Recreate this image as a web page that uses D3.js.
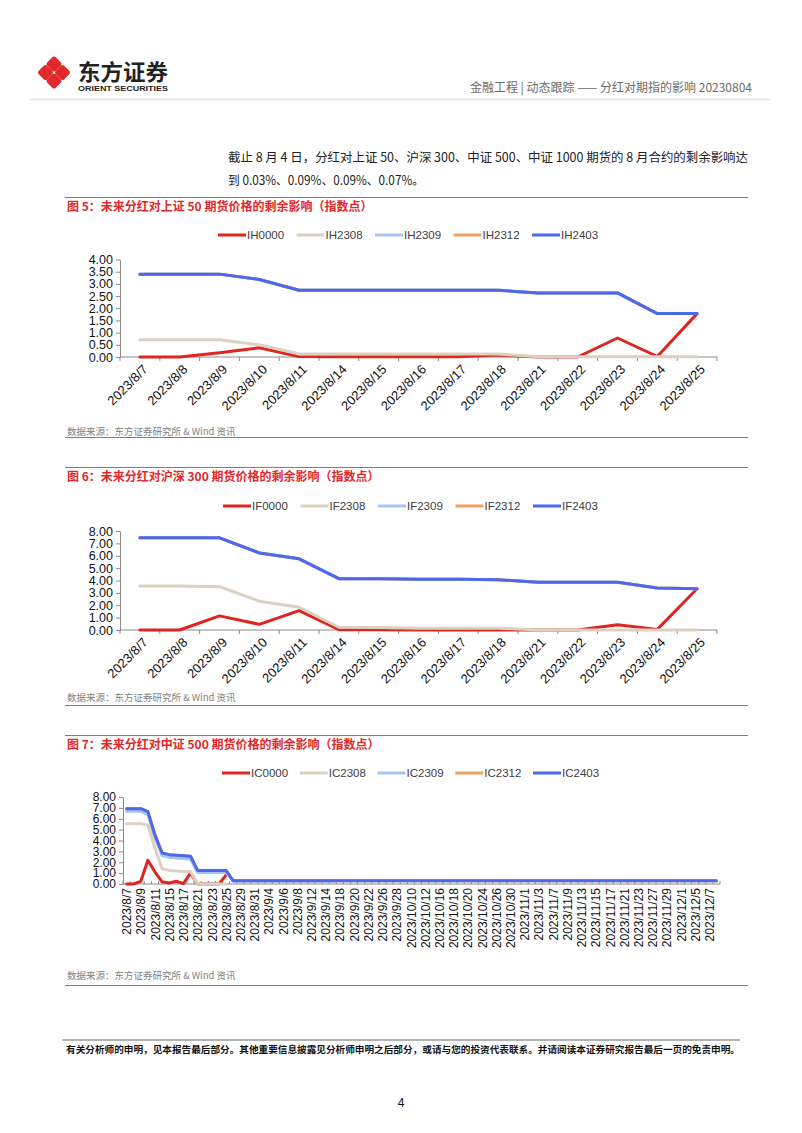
<!DOCTYPE html>
<html><head><meta charset="utf-8">
<script src="https://cdn.jsdelivr.net/npm/d3@7"></script>
<style>body{margin:0;background:#fff}svg{display:block}</style>
</head><body>
<svg id="page" width="802" height="1133"></svg>
<script>
// ---------------- DATA ----------------
const ihCats = ["2023/8/7","2023/8/8","2023/8/9","2023/8/10","2023/8/11","2023/8/14","2023/8/15","2023/8/16","2023/8/17","2023/8/18","2023/8/21","2023/8/22","2023/8/23","2023/8/24","2023/8/25"];
const ihNames = ["IH0000","IH2308","IH2309","IH2312","IH2403"];
const IH0000 = [0.00,0.00,0.17,0.38,0.02,0.01,0.01,0.01,0.01,0.08,0.00,0.00,0.78,0.02,1.78];
const IH2308 = [0.71,0.71,0.71,0.50,0.12,0.12,0.12,0.12,0.12,0.12,0.01,0.01,0.01,0.01,0.01];
const IH2309 = [3.40,3.40,3.40,3.18,2.74,2.74,2.74,2.74,2.74,2.74,2.63,2.63,2.63,1.78,1.78];
const IH2312 = [3.40,3.40,3.40,3.18,2.74,2.74,2.74,2.74,2.74,2.74,2.63,2.63,2.63,1.78,1.78];
const IH2403 = [3.40,3.40,3.40,3.18,2.74,2.74,2.74,2.74,2.74,2.74,2.63,2.63,2.63,1.78,1.78];
const ihYTicks = [0,0.5,1,1.5,2,2.5,3,3.5,4];

const ifCats = ihCats;
const ifNames = ["IF0000","IF2308","IF2309","IF2312","IF2403"];
const IF0000 = [0.00,0.00,1.14,0.46,1.57,0.02,0.02,0.00,0.00,0.00,0.00,0.00,0.43,0.05,3.33];
const IF2308 = [3.55,3.55,3.50,2.33,1.84,0.22,0.20,0.15,0.15,0.15,0.00,0.00,0.00,0.00,0.00];
const IF2309 = [7.45,7.45,7.45,6.23,5.75,4.15,4.15,4.10,4.10,4.07,3.85,3.85,3.85,3.39,3.33];
const IF2312 = [7.45,7.45,7.45,6.23,5.75,4.15,4.15,4.10,4.10,4.07,3.85,3.85,3.85,3.39,3.33];
const IF2403 = [7.45,7.45,7.45,6.23,5.75,4.15,4.15,4.10,4.10,4.07,3.85,3.85,3.85,3.39,3.33];
const ifYTicks = [0,1,2,3,4,5,6,7,8];

const icCats = [
 "2023/8/7","2023/8/8","2023/8/9","2023/8/10","2023/8/11","2023/8/14","2023/8/15","2023/8/16","2023/8/17","2023/8/18",
 "2023/8/21","2023/8/22","2023/8/23","2023/8/24","2023/8/25","2023/8/28","2023/8/29","2023/8/30","2023/8/31","2023/9/1",
 "2023/9/4","2023/9/5","2023/9/6","2023/9/7","2023/9/8","2023/9/11","2023/9/12","2023/9/13","2023/9/14","2023/9/15",
 "2023/9/18","2023/9/19","2023/9/20","2023/9/21","2023/9/22","2023/9/25","2023/9/26","2023/9/27","2023/9/28","2023/10/9",
 "2023/10/10","2023/10/11","2023/10/12","2023/10/13","2023/10/16","2023/10/17","2023/10/18","2023/10/19","2023/10/20","2023/10/23",
 "2023/10/24","2023/10/25","2023/10/26","2023/10/27","2023/10/30","2023/10/31","2023/11/1","2023/11/2","2023/11/3","2023/11/6",
 "2023/11/7","2023/11/8","2023/11/9","2023/11/10","2023/11/13","2023/11/14","2023/11/15","2023/11/16","2023/11/17","2023/11/20",
 "2023/11/21","2023/11/22","2023/11/23","2023/11/24","2023/11/27","2023/11/28","2023/11/29","2023/11/30","2023/12/1","2023/12/4",
 "2023/12/5","2023/12/6","2023/12/7","2023/12/8"];
const icNames = ["IC0000","IC2308","IC2309","IC2312","IC2403"];
const IC0000 = [
 0.00,0.00,0.25,2.18,1.10,0.20,0.10,0.25,0.03,1.00,
 0.00,0.00,0.00,0.00,0.80,null,null,null,null,null,
 null,null,null,null,null,null,null,null,null,null,
 null,null,null,null,null,null,null,null,null,null,
 null,null,null,null,null,null,null,null,null,null,
 null,null,null,null,null,null,null,null,null,null,
 null,null,null,null,null,null,null,null,null,null,
 null,null,null,null,null,null,null,null,null,null,
 null,null,null,null];
const IC2308 = [
 5.55,5.55,5.55,5.40,3.30,1.40,1.25,1.20,1.15,1.15,
 0.00,0.00,0.00,0.00,0.00,null,null,null,null,null,
 null,null,null,null,null,null,null,null,null,null,
 null,null,null,null,null,null,null,null,null,null,
 null,null,null,null,null,null,null,null,null,null,
 null,null,null,null,null,null,null,null,null,null,
 null,null,null,null,null,null,null,null,null,null,
 null,null,null,null,null,null,null,null,null,null,
 null,null,null,null];
const IC2309 = [
 6.68,6.68,6.68,6.40,4.25,2.60,2.45,2.40,2.35,2.30,
 1.05,1.05,1.05,1.05,1.05,0.27,0.27,0.27,0.27,0.27,
 0.27,0.27,0.27,0.27,0.27,0.27,0.27,0.27,0.27,0.27,
 null,null,null,null,null,null,null,null,null,null,
 null,null,null,null,null,null,null,null,null,null,
 null,null,null,null,null,null,null,null,null,null,
 null,null,null,null,null,null,null,null,null,null,
 null,null,null,null,null,null,null,null,null,null,
 null,null,null,null];
const IC2312 = [
 6.93,6.93,6.93,6.65,4.50,2.85,2.70,2.65,2.60,2.55,
 1.25,1.25,1.25,1.25,1.25,0.30,0.30,0.30,0.30,0.30,
 0.30,0.30,0.30,0.30,0.30,0.30,0.30,0.30,0.30,0.30,
 0.30,0.30,0.30,0.30,0.30,0.30,0.30,0.30,0.30,0.30,
 0.30,0.30,0.30,0.30,0.30,0.30,0.30,0.30,0.30,0.30,
 0.30,0.30,0.30,0.30,0.30,0.30,0.30,0.30,0.30,0.30,
 0.30,0.30,0.30,0.30,0.30,0.30,0.30,0.30,0.30,0.30,
 0.30,0.30,0.30,0.30,0.30,0.30,0.30,0.30,0.30,0.30,
 0.30,0.30,0.30,0.30];
const IC2403 = [
 6.93,6.93,6.93,6.65,4.50,2.85,2.70,2.65,2.60,2.55,
 1.25,1.25,1.25,1.25,1.25,0.30,0.30,0.30,0.30,0.30,
 0.30,0.30,0.30,0.30,0.30,0.30,0.30,0.30,0.30,0.30,
 0.30,0.30,0.30,0.30,0.30,0.30,0.30,0.30,0.30,0.30,
 0.30,0.30,0.30,0.30,0.30,0.30,0.30,0.30,0.30,0.30,
 0.30,0.30,0.30,0.30,0.30,0.30,0.30,0.30,0.30,0.30,
 0.30,0.30,0.30,0.30,0.30,0.30,0.30,0.30,0.30,0.30,
 0.30,0.30,0.30,0.30,0.30,0.30,0.30,0.30,0.30,0.30,
 0.30,0.30,0.30,0.30];
const icYTicks = [0,1,2,3,4,5,6,7,8];

const seriesColors = ["#E0241E","#DBD1C1","#A3C6F2","#F3A061","#4B69EE"];

// ---------------- STYLE ----------------
const CJK = "'Noto Sans CJK SC','Noto Sans',sans-serif";
const NUM = "'Liberation Sans',Arial,sans-serif";
const svg = d3.select("#page");
svg.append("rect").attr("width",802).attr("height",1133).attr("fill","#fff");

// ---------------- HEADER ----------------
const logo = svg.append("g");
[[0,-8.5],[8.5,0],[0,8.5],[-8.5,0]].forEach(([dx,dy])=>{
  logo.append("rect").attr("x",-6).attr("y",-6).attr("width",12).attr("height",12).attr("rx",2.5)
    .attr("transform",`translate(${54+dx},${72.5+dy}) rotate(45)`).attr("fill","#E3282B");
});
logo.append("text").attr("x",78).attr("y",80).attr("font-family",CJK).attr("font-weight","bold")
  .attr("font-size",22).attr("fill","#222").attr("textLength",90).attr("lengthAdjust","spacingAndGlyphs").text("东方证券");
logo.append("text").attr("x",78).attr("y",91).attr("font-family",NUM).attr("font-weight","bold")
  .attr("font-size",7.5).attr("fill","#222").attr("textLength",90).attr("lengthAdjust","spacingAndGlyphs").text("ORIENT SECURITIES");
svg.append("text").attr("x",752).attr("y",92).attr("text-anchor","end").attr("font-family",CJK)
  .attr("font-size",12).attr("fill","#6b6b6b").text("金融工程 | 动态跟踪 —— 分红对期指的影响 20230804");
svg.append("line").attr("x1",30).attr("x2",770).attr("y1",99.5).attr("y2",99.5).attr("stroke","#e2e2e2").attr("stroke-width",1.5);

svg.append("text").attr("x",228).attr("y",162).attr("font-family",CJK).attr("font-size",12.5).attr("fill","#222")
  .attr("textLength",520).attr("lengthAdjust","spacingAndGlyphs")
  .text("截止 8 月 4 日，分红对上证 50、沪深 300、中证 500、中证 1000 期货的 8 月合约的剩余影响达");
svg.append("text").attr("x",228).attr("y",185).attr("font-family",CJK).attr("font-size",12.5).attr("fill","#222")
  .attr("textLength",196).attr("lengthAdjust","spacingAndGlyphs")
  .text("到 0.03%、0.09%、0.09%、0.07%。");

// ---------------- CHART ----------------
function drawChart(o){
  const g = svg.append("g");
  const red = "#E5514E";
  g.append("line").attr("x1",65).attr("x2",748).attr("y1",o.ruleTop).attr("y2",o.ruleTop).attr("stroke",red).attr("stroke-width",1);
  g.append("line").attr("x1",65).attr("x2",748).attr("y1",o.ruleBottom).attr("y2",o.ruleBottom).attr("stroke",red).attr("stroke-width",1);
  g.append("text").attr("x",67).attr("y",o.titleY).attr("font-family",CJK).attr("font-weight","bold")
    .attr("font-size",12).attr("fill","#E0282A").text(o.title);
  g.append("text").attr("x",67).attr("y",o.sourceY).attr("font-family",CJK)
    .attr("font-size",9.5).attr("fill","#7f7f7f").text("数据来源：东方证券研究所 & Wind 资讯");

  // legend
  const lg = g.append("g");
  o.names.forEach((n,i)=>{
    const lx = o.legendX + i*o.legendPitch;
    lg.append("line").attr("x1",lx).attr("x2",lx+28).attr("y1",o.legendY).attr("y2",o.legendY)
      .attr("stroke",seriesColors[i]).attr("stroke-width",3);
    lg.append("text").attr("x",lx+29).attr("y",o.legendY).attr("dy","0.35em").attr("font-family",NUM)
      .attr("font-size",11.5).attr("fill","#404040").text(n);
  });

  const x = d3.scalePoint().domain(o.cats).range([o.x0,o.x1]).padding(0.5);
  const xb = d3.scaleBand().domain(o.cats).range([o.x0,o.x1]);
  const y = d3.scaleLinear().domain([0,d3.max(o.yTicks)]).range([o.yBottom,o.yTop]);
  const axisCol = "#8a8a8a";

  // y axis
  const gy = g.append("g").attr("transform",`translate(${o.x0},0)`)
    .call(d3.axisLeft(y).tickValues(o.yTicks).tickFormat(d3.format(".2f")).tickSize(4).tickSizeOuter(0).tickPadding(3));
  gy.select(".domain").attr("stroke",axisCol);
  gy.selectAll(".tick line").attr("stroke",axisCol);
  gy.selectAll("text").attr("font-family",NUM).attr("font-size",o.ySize).attr("fill","#111");

  // x axis line + ticks at category boundaries
  g.append("line").attr("x1",o.x0).attr("x2",o.x1).attr("y1",o.yBottom).attr("y2",o.yBottom).attr("stroke",axisCol);
  const bounds = o.cats.map(c=>xb(c)).concat([o.x1]);
  g.selectAll(null).data(bounds).join("line")
    .attr("x1",d=>d).attr("x2",d=>d).attr("y1",o.yBottom+o.tickDown).attr("y2",o.yBottom-o.tickUp).attr("stroke",axisCol);

  // x labels
  const labelCats = o.cats.filter((c,i)=>i % o.labelEvery === 0);
  const gx = g.append("g").attr("transform",`translate(0,${o.yBottom})`)
    .call(d3.axisBottom(x).tickValues(labelCats).tickSize(0).tickPadding(0));
  gx.select(".domain").remove();
  gx.selectAll("text").attr("font-family",NUM).attr("font-size",o.labelSize).attr("fill","#111")
    .attr("x",0).attr("y",0).attr("dy","0.35em").attr("text-anchor","end")
    .attr("transform",o.labelTransform);

  // series
  const line = d3.line().defined(d=>d!=null).x((d,i)=>x(o.cats[i])).y(d=>y(d));
  o.series.forEach((s,i)=>{
    g.append("path").datum(s).attr("d",line).attr("fill","none").attr("stroke",seriesColors[i])
      .attr("stroke-width",3).attr("stroke-linejoin","round").attr("stroke-linecap","round");
  });
}

drawChart({
  ruleTop:197.5, ruleBottom:437.5, titleY:211, sourceY:435,
  title:"图 5：未来分红对上证 50 期货价格的剩余影响（指数点）",
  legendX:218, legendPitch:78.5, legendY:235, names:ihNames,
  cats:ihCats, series:[IH0000,IH2308,IH2309,IH2312,IH2403], yTicks:ihYTicks, ySize:12.5,
  x0:120, x1:717, yTop:259.5, yBottom:357, tickDown:4, tickUp:0,
  labelEvery:1, labelSize:13, labelTransform:"translate(5,10) rotate(-45)"
});
drawChart({
  ruleTop:467.5, ruleBottom:705.5, titleY:481, sourceY:701,
  title:"图 6：未来分红对沪深 300 期货价格的剩余影响（指数点）",
  legendX:223, legendPitch:77.5, legendY:506, names:ifNames,
  cats:ifCats, series:[IF0000,IF2308,IF2309,IF2312,IF2403], yTicks:ifYTicks, ySize:12.5,
  x0:120, x1:717, yTop:531, yBottom:630, tickDown:4, tickUp:0,
  labelEvery:1, labelSize:13, labelTransform:"translate(5,10) rotate(-45)"
});
drawChart({
  ruleTop:735.5, ruleBottom:985.5, titleY:749, sourceY:979,
  title:"图 7：未来分红对中证 500 期货价格的剩余影响（指数点）",
  legendX:222, legendPitch:77.75, legendY:773, names:icNames,
  cats:icCats, series:[IC0000,IC2308,IC2309,IC2312,IC2403], yTicks:icYTicks, ySize:12,
  x0:123, x1:720, yTop:797, yBottom:884, tickDown:0, tickUp:3,
  labelEvery:2, labelSize:12, labelTransform:"translate(0,4) rotate(-90)"
});

// ---------------- FOOTER ----------------
svg.append("line").attr("x1",62).attr("x2",740).attr("y1",1040).attr("y2",1040).attr("stroke","#9a9a9a").attr("stroke-width",1.5);
svg.append("text").attr("x",66).attr("y",1053).attr("font-family",CJK).attr("font-weight","bold").attr("font-size",9.5)
  .attr("fill","#111").attr("textLength",674).attr("lengthAdjust","spacingAndGlyphs")
  .text("有关分析师的申明，见本报告最后部分。其他重要信息披露见分析师申明之后部分，或请与您的投资代表联系。并请阅读本证券研究报告最后一页的免责申明。");
svg.append("text").attr("x",401).attr("y",1107).attr("text-anchor","middle").attr("font-family",NUM)
  .attr("font-size",12).attr("fill","#111").text("4");
</script>
</body></html>
